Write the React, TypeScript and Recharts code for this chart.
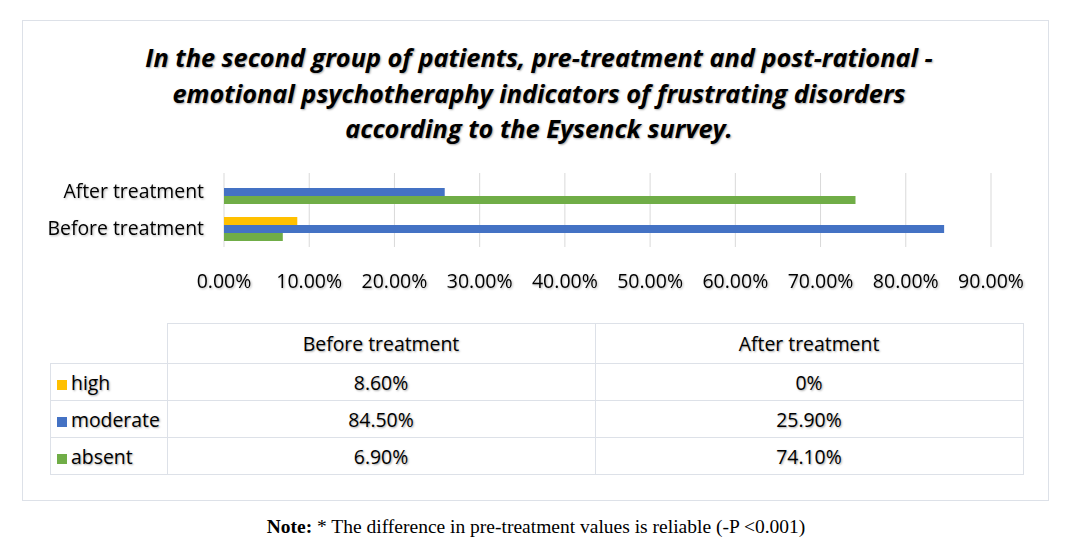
import React from "react";
import { BarChart, Bar, XAxis, YAxis, CartesianGrid } from "recharts";

// categories as listed in the data table (Excel draws the first one at the bottom)
const categories = ["Before treatment", "After treatment"];
const seriesNames = ["high", "moderate", "absent"];
const seriesColors = ["#FFC000", "#4472C4", "#70AD47"];
const high = [0.086, 0];
const moderate = [0.845, 0.259];
const absent = [0.069, 0.741];
const tableLabels = [
  ["8.60%", "0%"],
  ["84.50%", "25.90%"],
  ["6.90%", "74.10%"],
];
const xTicks = [0, 0.1, 0.2, 0.3, 0.4, 0.5, 0.6, 0.7, 0.8, 0.9];

const titleLines = [
  "In the second group of patients, pre-treatment and post-rational -",
  "emotional psychotheraphy indicators of frustrating disorders",
  "according to the Eysenck survey.",
];

const FONT = "'Open Sans', Lato, sans-serif";
const SHADOW = "1px 1px 2px rgba(0,0,0,0.35)";
const BORDER = "1px solid #dde1e8";
const tickStyle = { filter: "drop-shadow(1px 1px 1px rgba(0,0,0,0.3))" };

// top of the chart is the last category
const chartData = categories
  .map((name, i) => ({ name, high: high[i], moderate: moderate[i], absent: absent[i] }))
  .reverse();

const seriesValues = [high, moderate, absent];

export default function App() {
  return (
    <div style={{ position: "relative", width: 1075, height: 546, margin: -8, background: "#fff", fontFamily: FONT }}>
      <div
        style={{
          position: "absolute",
          left: 22,
          top: 20,
          width: 1025,
          height: 479,
          border: BORDER,
        }}
      />
      <div
        style={{
          position: "absolute",
          left: 0,
          top: 40,
          width: 1078,
          textAlign: "center",
          fontWeight: 700,
          fontStyle: "italic",
          fontSize: 25.3,
          lineHeight: "35.5px",
          color: "#000",
          textShadow: SHADOW,
        }}
      >
        {titleLines.map((l) => (
          <div key={l}>{l}</div>
        ))}
      </div>

      <div style={{ position: "absolute", left: 0, top: 0 }}>
        <BarChart
          width={1075}
          height={320}
          data={chartData}
          layout="vertical"
          margin={{ top: 173, right: 84, bottom: 33, left: 0 }}
          barSize={8}
          barGap={0}
        >
          <CartesianGrid horizontal={false} stroke="#d9d9d9" />
          <XAxis
            type="number"
            domain={[0, 0.9]}
            ticks={xTicks}
            height={40}
            axisLine={false}
            tickLine={false}
            tickSize={0}
            tickMargin={27}
            interval={0}
            tickFormatter={(v) => `${(v * 100).toFixed(2)}%`}
            tick={{ fill: "#000", fontSize: 19.5, fontFamily: FONT, style: tickStyle }}
          />
          <YAxis
            type="category"
            dataKey="name"
            width={224}
            axisLine={false}
            tickLine={false}
            tickSize={0}
            tickMargin={20}
            tick={{ fill: "#000", fontSize: 19.4, fontFamily: FONT, style: tickStyle }}
          />
          {seriesNames.map((s, i) => (
            <Bar key={s} dataKey={s} fill={seriesColors[i]} isAnimationActive={false} />
          ))}
        </BarChart>
      </div>

      <table
        style={{
          position: "absolute",
          left: 50,
          top: 323,
          borderCollapse: "collapse",
          fontSize: 19.4,
          color: "#000",
          textShadow: SHADOW,
        }}
      >
        <tbody>
          <tr style={{ height: 40 }}>
            <td style={{ width: 116, padding: 0 }} />
            {categories.map((c) => (
              <td key={c} style={{ width: 427, border: BORDER, textAlign: "center", padding: 0 }}>
                {c}
              </td>
            ))}
          </tr>
          {seriesNames.map((s, i) => (
            <tr key={s} style={{ height: 37 }}>
              <td style={{ border: BORDER, padding: "0 0 0 6px", whiteSpace: "nowrap" }}>
                <span
                  style={{
                    display: "inline-block",
                    width: 10,
                    height: 10,
                    background: seriesColors[i],
                    marginRight: 4,
                  }}
                />
                {s}
              </td>
              {categories.map((c, j) => (
                <td key={c} style={{ border: BORDER, textAlign: "center", padding: 0 }} title={String(seriesValues[i][j])}>
                  {tableLabels[i][j]}
                </td>
              ))}
            </tr>
          ))}
        </tbody>
      </table>

      <div
        style={{
          position: "absolute",
          left: 0,
          top: 516,
          width: 1072,
          textAlign: "center",
          fontFamily: "'Liberation Serif', 'Times New Roman', serif",
          fontSize: 19.5,
          color: "#000",
        }}
      >
        <b>Note:</b> * The difference in pre-treatment values is reliable (-P &lt;0.001)
      </div>
    </div>
  );
}
